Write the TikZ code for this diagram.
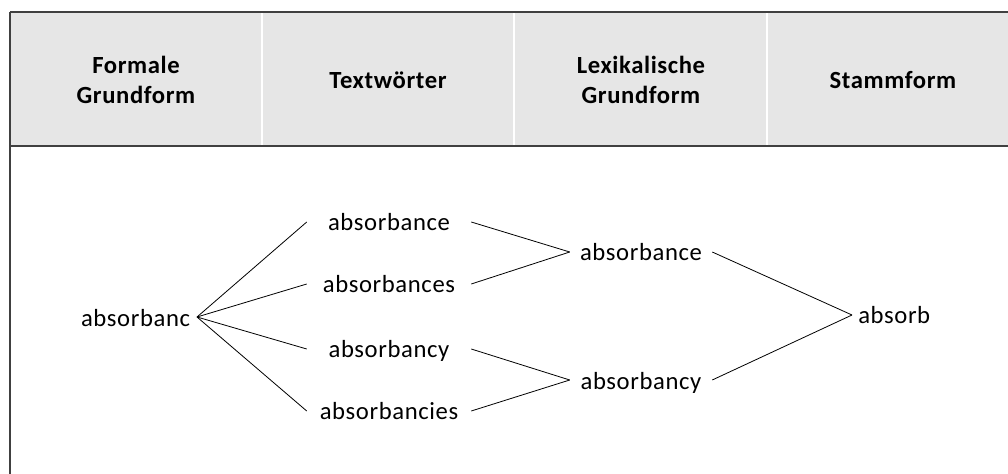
\documentclass[tikz,border=0pt]{standalone}
\usepackage{fontspec}
\setmainfont{Carlito}[LetterSpace=2.5]
\definecolor{hdrfill}{HTML}{E6E6E6}
\definecolor{frame}{HTML}{404040}
\tikzset{
  word/.style={font=\fontsize{18.5}{20}\selectfont, inner sep=0pt, text height=17.5pt, text depth=4pt, text=black},
  hdr/.style={font=\fontsize{18.5}{23}\selectfont\bfseries, align=center, text=black},
  link/.style={draw=black, line width=0.6pt},
}
\begin{document}
\begin{tikzpicture}[x=0.75pt,y=-0.75pt]
\useasboundingbox (0,0) rectangle (1008,474);
\clip (0,0) rectangle (1008,474);
% header band
\fill[hdrfill] (10,12) rectangle (1019,146);
\draw[white, line width=0.8pt] (262,12) -- (262,146) (514,12) -- (514,146) (767,12) -- (767,146);
\draw[frame, line width=0.8pt] (10,12) -- (1019,12);
\draw[frame, line width=1.6pt] (10,146) -- (1019,146);
\draw[frame, line width=0.8pt] (10,12) -- (10,474);
% header labels
\node[hdr] (h1) at (136,80) {Formale\\Grundform};
\node[hdr] (h2) at (388,80) {Textwörter};
\node[hdr] (h3) at (641,80) {Lexikalische\\Grundform};
\node[hdr] (h4) at (893,80) {Stammform};
% words
\node[word, anchor=east, inner xsep=5pt] (fg) at (197,317) {absorbanc};
\node[word, minimum width=123pt] (t1) at (389,222) {absorbance};
\node[word, minimum width=123pt] (t2) at (389,284) {absorbances};
\node[word, minimum width=123pt] (t3) at (389,349) {absorbancy};
\node[word, minimum width=123pt] (t4) at (389,411) {absorbancies};
\node[word, minimum width=106.5pt] (l1) at (641,252) {absorbance};
\node[word, minimum width=106.5pt] (l2) at (641,380) {absorbancy};
\node[word, anchor=west, inner xsep=4.5pt] (st) at (852,315) {absorb};
% connectors
\draw[link] (fg.east) -- (t1.west);
\draw[link] (fg.east) -- (t2.west);
\draw[link] (fg.east) -- (t3.west);
\draw[link] (fg.east) -- (t4.west);
\draw[link] (t1.east) -- (l1.west);
\draw[link] (t2.east) -- (l1.west);
\draw[link] (t3.east) -- (l2.west);
\draw[link] (t4.east) -- (l2.west);
\draw[link] (l1.east) -- (st.west);
\draw[link] (l2.east) -- (st.west);
\end{tikzpicture}
\end{document}
